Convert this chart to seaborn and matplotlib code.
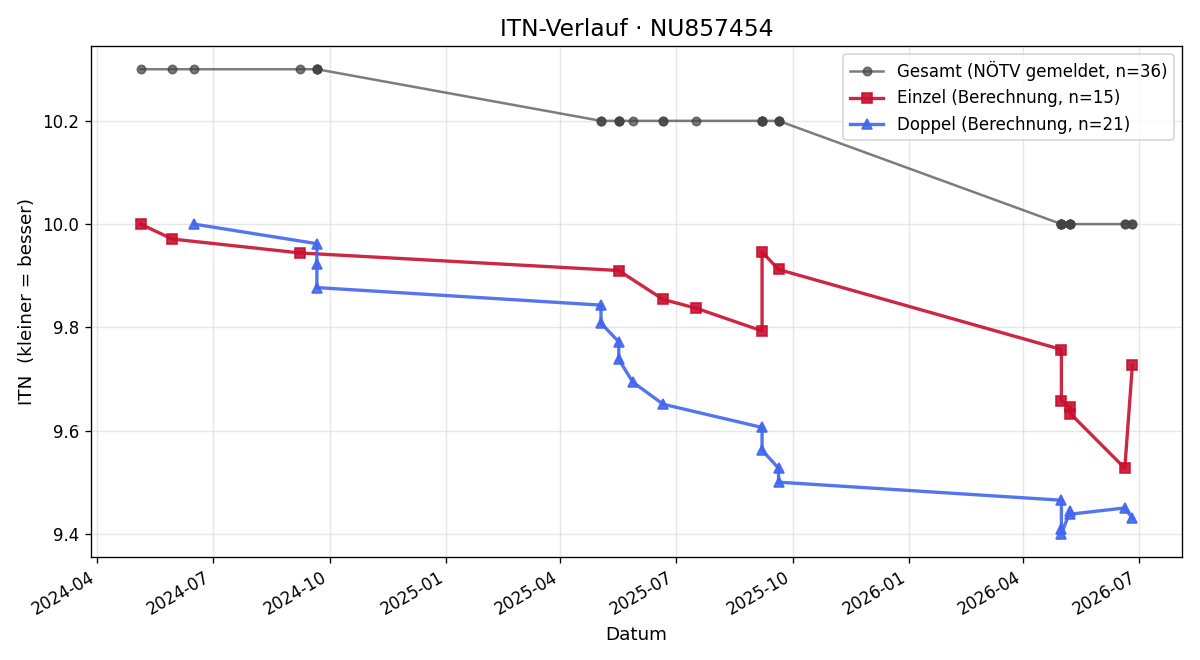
import pandas as pd
import matplotlib
matplotlib.use("Agg")
import matplotlib.pyplot as plt
import matplotlib.dates as mdates
import seaborn as sns

# Werte
einzel_datum = ["2024-05-05", "2024-05-30", "2024-09-08", "2025-05-17", "2025-06-21",
                "2025-07-17", "2025-09-07", "2025-09-07", "2025-09-20", "2026-05-01",
                "2026-05-01", "2026-05-08", "2026-05-08", "2026-06-20", "2026-06-26"]
einzel_itn = [10.000, 9.971, 9.944, 9.910, 9.854,
              9.837, 9.793, 9.946, 9.912, 9.757,
              9.658, 9.645, 9.633, 9.527, 9.727]

doppel_datum = ["2024-06-16", "2024-09-21", "2024-09-21", "2024-09-21", "2025-05-03",
                "2025-05-03", "2025-05-17", "2025-05-17", "2025-05-28", "2025-06-21",
                "2025-09-07", "2025-09-07", "2025-09-20", "2025-09-20", "2026-05-01",
                "2026-05-01", "2026-05-01", "2026-05-08", "2026-05-08", "2026-06-20",
                "2026-06-26"]
doppel_itn = [10.000, 9.962, 9.922, 9.877, 9.843,
              9.808, 9.772, 9.738, 9.694, 9.651,
              9.606, 9.562, 9.527, 9.500, 9.465,
              9.410, 9.400, 9.444, 9.438, 9.450,
              9.430]

gesamt_datum = ["2024-05-05", "2024-05-30", "2024-06-16", "2024-09-08", "2024-09-21",
                "2024-09-21", "2024-09-21", "2025-05-03", "2025-05-03", "2025-05-17",
                "2025-05-17", "2025-05-17", "2025-05-28", "2025-06-21", "2025-06-21",
                "2025-07-17", "2025-09-07", "2025-09-07", "2025-09-07", "2025-09-07",
                "2025-09-20", "2025-09-20", "2025-09-20", "2026-05-01", "2026-05-01",
                "2026-05-01", "2026-05-01", "2026-05-01", "2026-05-08", "2026-05-08",
                "2026-05-08", "2026-05-08", "2026-06-20", "2026-06-20", "2026-06-26",
                "2026-06-26"]
gesamt_itn = [10.3] * 7 + [10.2] * 16 + [10.0] * 13

gesamt = pd.DataFrame({"Datum": pd.to_datetime(gesamt_datum), "ITN": gesamt_itn})
einzel = pd.DataFrame({"Datum": pd.to_datetime(einzel_datum), "ITN": einzel_itn})
doppel = pd.DataFrame({"Datum": pd.to_datetime(doppel_datum), "ITN": doppel_itn})

fig, ax = plt.subplots(figsize=(10, 5.5), dpi=120)

sns.lineplot(data=gesamt, x="Datum", y="ITN", ax=ax, sort=False, estimator=None,
             color="#444444", alpha=0.7, linewidth=1.5, marker="o", markersize=5,
             markeredgecolor="#444444", markeredgewidth=1,
             label="Gesamt (NÖTV gemeldet, n=36)")
sns.lineplot(data=einzel, x="Datum", y="ITN", ax=ax, sort=False, estimator=None,
             color="#c8102e", alpha=0.9, linewidth=2, marker="s", markersize=6,
             markeredgecolor="#c8102e", markeredgewidth=1,
             label="Einzel (Berechnung, n=15)")
sns.lineplot(data=doppel, x="Datum", y="ITN", ax=ax, sort=False, estimator=None,
             color="#4266ee", alpha=0.9, linewidth=2, marker="^", markersize=6,
             markeredgecolor="#4266ee", markeredgewidth=1,
             label="Doppel (Berechnung, n=21)")

ax.set_title("ITN-Verlauf · NU857454", fontsize=14)
ax.set_xlabel("Datum", fontsize=11)
ax.set_ylabel("ITN  (kleiner = besser)", fontsize=11)
ax.grid(True, alpha=0.3)
ax.xaxis.set_major_locator(mdates.MonthLocator(bymonth=[1, 4, 7, 10]))
ax.xaxis.set_major_formatter(mdates.DateFormatter("%Y-%m"))
ax.tick_params(labelsize=10)
plt.setp(ax.get_xticklabels(), rotation=30, ha="right")
ax.legend(loc="upper right", fontsize=10)

fig.subplots_adjust(left=91 / 1200, right=1182 / 1200, top=1 - 46 / 660, bottom=1 - 557 / 660)
fig.savefig("out.png")
